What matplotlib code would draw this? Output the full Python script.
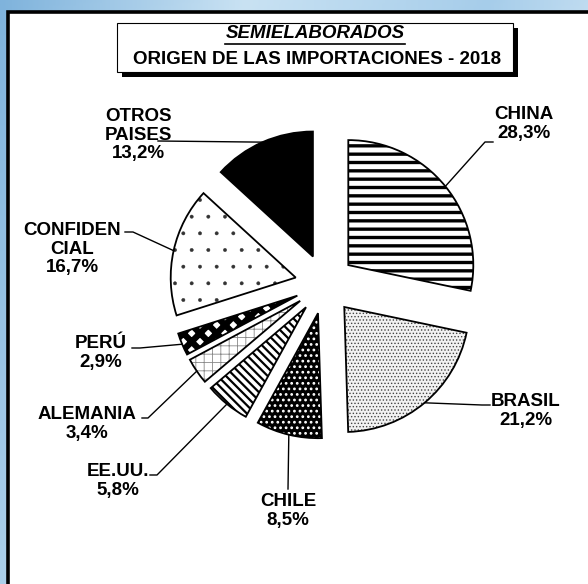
import numpy as np
import matplotlib
matplotlib.use("Agg")
import matplotlib.pyplot as plt
from matplotlib.patches import Wedge, Rectangle
from matplotlib.colors import LinearSegmentedColormap

plt.rcParams['font.family'] = ['Liberation Sans', 'DejaVu Sans']

# datos
paises = ["CHINA", "BRASIL", "CHILE", "EE.UU.", "ALEMANIA", "PERÚ", "CONFIDEN\nCIAL", "OTROS\nPAISES"]
porcentajes = [28.3, 21.2, 8.5, 5.8, 3.4, 2.9, 16.7, 13.2]
titulo_1 = "SEMIELABORADOS"
titulo_2 = "ORIGEN DE LAS IMPORTACIONES - 2018"

# estilos de cada porcion
caras = ["white", "#f2f2f2", "black", "white", "white", "white", "white", "black"]
tramas = ["--", ".....", "...", "\\\\\\\\", "++", "xx", ".", ""]
color_trama = ["black", "#444444", "white", "black", "#888888", "black", "#333333", "black"]
grosor_trama = [2.4, 0.6, 1.2, 1.6, 0.6, 4.5, 0.3, 1.0]

# posiciones de etiquetas (pixeles desde arriba-izquierda)
texto_xy = [(524, 124), (526, 411), (288, 511), (118, 481), (87, 424), (101, 353), (72, 249), (138, 135)]
linea_ini = [(493, 142), (490, 405), (288, 489), (150, 475), (142, 418), (132, 348), (125, 232), (158, 141)]
linea_codo = [(485, 142), (482, 405), (288, 489), (157, 475), (148, 418), (140, 348), (133, 232), (158, 141)]

W, H = 588, 584
CX, CY, R = 325, 284, 125


def u(x, y):
    return (x - CX) / R, (CY - y) / R


fig = plt.figure(figsize=(W / 100, H / 100), dpi=100)

# fondo azul y marco
bg = fig.add_axes([0, 0, 1, 1])
bg.set_xlim(0, W)
bg.set_ylim(H, 0)
bg.axis('off')
cmap = LinearSegmentedColormap.from_list("fondo", ["#7fb3dc", "#c9e2f3", "#a6cdea", "#e3f0f9"])
gx, gy = np.meshgrid(np.linspace(0, 1, 200), np.linspace(0, 1, 200))
bg.imshow(gx * 0.8 + gy * 0.2, cmap=cmap, extent=(0, W, H, 0), aspect='auto', zorder=0)
bg.add_patch(Rectangle((7.5, 11.5), W, H, fc='white', ec='black', lw=2.6, zorder=1))

# caja del titulo con sombra
bg.add_patch(Rectangle((122, 28), 396, 49, fc='black', ec='none', zorder=2))
bg.add_patch(Rectangle((117, 23), 396, 49, fc='white', ec='black', lw=0.8, zorder=3))
t1 = bg.text(315, 34, titulo_1, ha='center', va='center', fontsize=13.5,
             fontweight='bold', fontstyle='italic', zorder=4)
bg.text(317, 60, titulo_2, ha='center', va='center', fontsize=13.5,
        fontweight='bold', zorder=4)

# torta
ax = fig.add_axes([0, 0, 1, 1])
ax.patch.set_alpha(0)
wedges, _ = ax.pie(porcentajes, startangle=90, counterclock=False,
                   explode=[0.24] * len(porcentajes), radius=1)
ax.set_xlim(-CX / R, (W - CX) / R)
ax.set_ylim((CY - H) / R, CY / R)
ax.set_aspect('equal')
ax.axis('off')

for i, w in enumerate(wedges):
    w.set_facecolor(caras[i])
    w.set_hatch(tramas[i])
    w.set_edgecolor(color_trama[i])
    w.set_linewidth(0)
    if hasattr(w, "set_hatch_linewidth"):
        w.set_hatch_linewidth(grosor_trama[i])
    ax.add_patch(Wedge(w.center, w.r, w.theta1, w.theta2, fill=False,
                       ec='black', lw=1.3, zorder=3))

    # linea guia y etiqueta
    tm = np.radians((w.theta1 + w.theta2) / 2)
    ancla = (w.center[0] + w.r * np.cos(tm), w.center[1] + w.r * np.sin(tm))
    p0, p1 = u(*linea_ini[i]), u(*linea_codo[i])
    ax.plot([p0[0], p1[0], ancla[0]], [p0[1], p1[1], ancla[1]], color='black', lw=1, zorder=2)
    valor = f"{porcentajes[i]:.1f}".replace(".", ",")
    tx, ty = u(*texto_xy[i])
    ax.text(tx, ty, f"{paises[i]}\n{valor}%", ha='center', va='center',
            fontsize=13.5, fontweight='bold', linespacing=1.15)

# subrayado del primer titulo
fig.canvas.draw()
bb = t1.get_window_extent()
bg.plot([bb.x0, bb.x1], [H - bb.y0 + 1, H - bb.y0 + 1], color='black', lw=1.2, zorder=4)

fig.savefig("out.png", dpi=100)
